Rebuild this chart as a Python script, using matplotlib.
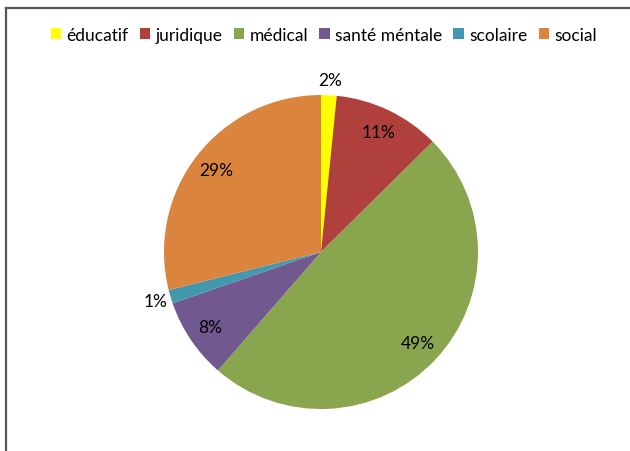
import matplotlib.pyplot as plt
from matplotlib.lines import Line2D
from matplotlib.patches import Patch

plt.rcParams['font.family'] = ['Lato', 'DejaVu Sans']

categories = ['éducatif', 'juridique', 'médical', 'santé méntale', 'scolaire', 'social']
values = [1.6, 11.0, 48.8, 8.3, 1.4, 28.9]
colors = ['#FFFF00', '#B0403C', '#89A54E', '#71588F', '#4198AF', '#DB843D']

fig = plt.figure(figsize=(6.3, 4.52), dpi=100)

# frame lines (top and left visible in the original)
fig.add_artist(Line2D([5.5/630, 1], [1-8.5/452, 1-8.5/452], color='#555555', lw=1.6))
fig.add_artist(Line2D([5.5/630, 5.5/630], [0, 1-8.5/452], color='#555555', lw=1.6))

cx, cy, r = 321, 253, 157
ax = fig.add_axes([(cx-r)/630, (452-cy-r)/452, 2*r/630, 2*r/452])
wedges, texts, autotexts = ax.pie(values, colors=colors, startangle=90, counterclock=False,
                                  autopct='%.0f%%', pctdistance=0.85, radius=1,
                                  wedgeprops=dict(linewidth=0),
                                  textprops=dict(fontsize=12.5, color='black'))
# small slices get their labels outside
for t, v in zip(autotexts, values):
    if v <= 2:
        x, y = t.get_position()
        t.set_position((x*1.1/0.85, y*1.1/0.85))
ax.set_xlim(-1, 1)
ax.set_ylim(-1, 1)
ax.set_aspect('equal')
ax.axis('off')

handles = [Patch(facecolor=c, edgecolor='none') for c in colors]
fig.legend(handles, categories, loc='center', bbox_to_anchor=(0.514, 1-36/452), ncol=6,
           frameon=False, fontsize=12.5, handlelength=0.6, handleheight=0.6,
           handletextpad=0.3, columnspacing=0.65)

fig.savefig('out.png', dpi=100)
